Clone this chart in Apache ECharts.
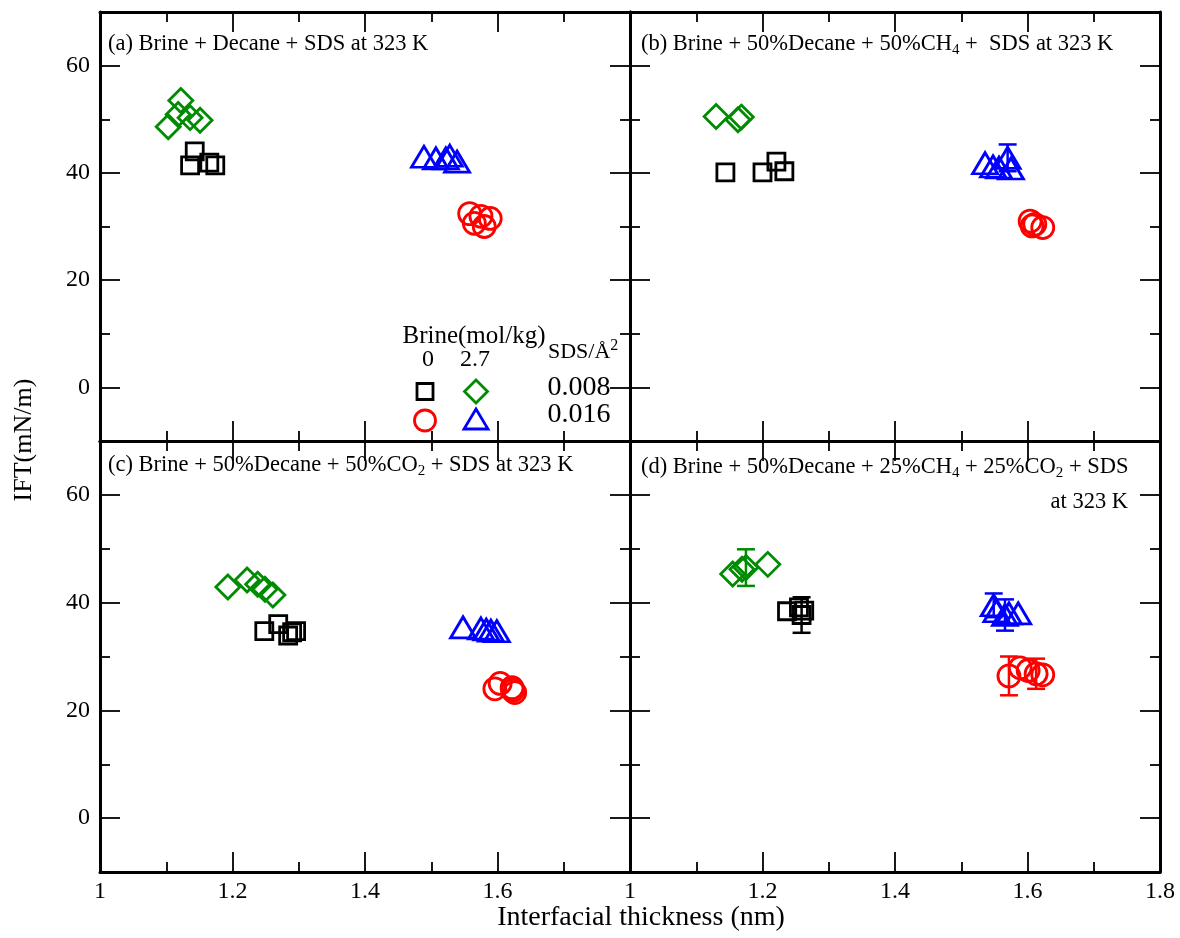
<!DOCTYPE html>
<html>
<head>
<meta charset="utf-8">
<script src="https://cdn.jsdelivr.net/npm/echarts@6/dist/echarts.min.js"></script>
<style>
html, body { margin: 0; padding: 0; background: #fff; }
#chart { width: 1180px; height: 938px; }
</style>
</head>
<body>
<div id="chart"></div>
<script>
// axis ticks
var xMin = 1, xMax = 1.8, xStep = 0.2;
var yMin = -10, yMax = 70;
var yMajor = [0, 20, 40, 60];
var yMinor = [10, 30, 50];

// (a) brine + decane + SDS
var aSquare = [[1.143, 44.0], [1.136, 41.4], [1.165, 41.9], [1.174, 41.4]];
var aDiamond = [[1.103, 48.6], [1.118, 50.9], [1.122, 53.5], [1.136, 50.3], [1.151, 49.8]];
var aCircle = [[1.558, 32.4], [1.565, 30.6], [1.580, 30.0], [1.575, 31.9], [1.589, 31.5]];
var aTriangle = [[1.489, 43.0], [1.507, 42.7], [1.522, 42.7], [1.528, 43.2], [1.539, 42.1]];

// (b) 50% decane + 50% CH4
var bSquare = [[1.144, 40.1], [1.200, 40.1], [1.221, 42.1], [1.233, 40.3]];
var bDiamond = [[1.130, 50.5], [1.163, 49.9], [1.168, 50.4]];
var bCircle = [[1.604, 31.0], [1.607, 30.1], [1.611, 30.4], [1.623, 29.8]];
var bTriangle = [[1.536, 41.8], [1.548, 41.2], [1.557, 41.0], [1.570, 42.8], [1.575, 40.8]];
var bTriangleErr = [[1.570, 42.8, 2.5]];

// (c) 50% decane + 50% CO2
var cSquare = [[1.248, 34.7], [1.269, 36.0], [1.284, 33.9], [1.290, 34.5], [1.296, 34.7]];
var cDiamond = [[1.193, 42.9], [1.222, 44.2], [1.238, 43.4], [1.249, 42.5], [1.261, 41.4]];
var cCircle = [[1.596, 24.0], [1.604, 25.0], [1.622, 24.2], [1.626, 23.3], [1.623, 23.7]];
var cTriangle = [[1.548, 35.4], [1.575, 35.2], [1.583, 35.0], [1.590, 34.8], [1.599, 34.7]];

// (d) 50% decane + 25% CH4 + 25% CO2
var dSquare = [[1.237, 38.4], [1.255, 39.1], [1.259, 37.7], [1.263, 38.5]];
var dDiamond = [[1.155, 45.3], [1.169, 46.2], [1.175, 46.5], [1.208, 47.1]];
var dCircle = [[1.572, 26.4], [1.589, 27.9], [1.601, 27.4], [1.613, 26.8], [1.623, 26.6]];
var dTriangle = [[1.549, 39.5], [1.553, 38.4], [1.566, 37.7], [1.572, 38.0], [1.586, 38.0]];
var dSquareErr = [[1.259, 37.7, 3.3]];
var dDiamondErr = [[1.175, 46.5, 3.4]];
var dCircleErr = [[1.572, 26.4, 3.6], [1.613, 26.8, 2.8]];
var dTriangleErr = [[1.549, 39.5, 2.2], [1.566, 37.7, 2.9]];

var FONT = "'Liberation Serif', 'Times New Roman', serif";
var BLACK = '#000000', RED = '#ff0000', GREEN = '#008c00', BLUE = '#0000ff';

var panels = [
    { sq: aSquare, di: aDiamond, ci: aCircle, tr: aTriangle, err: [] },
    { sq: bSquare, di: bDiamond, ci: bCircle, tr: bTriangle, err: [[bTriangleErr, BLUE]] },
    { sq: cSquare, di: cDiamond, ci: cCircle, tr: cTriangle, err: [] },
    { sq: dSquare, di: dDiamond, ci: dCircle, tr: dTriangle,
      err: [[dSquareErr, BLACK], [dDiamondErr, GREEN], [dCircleErr, RED], [dTriangleErr, BLUE]] }
];
var boxes = [[100, 12, 530, 429], [630, 12, 530, 429], [100, 441, 530, 431], [630, 441, 530, 431]];

var grids = [], xAxes = [], yAxes = [], series = [];
var tickStyle = { color: '#000', width: 1.8 };
var lineStyle = { color: '#000', width: 3 };

boxes.forEach(function (b, i) {
    var isBottom = i >= 2, isLeft = i % 2 === 0;
    grids.push({ left: b[0], top: b[1], width: b[2], height: b[3] });
    ['bottom', 'top'].forEach(function (pos) {
        xAxes.push({
            gridIndex: i, type: 'value', position: pos,
            min: xMin, max: xMax, interval: xStep,
            axisLine: { onZero: false, lineStyle: lineStyle },
            axisTick: { inside: true, length: 20, lineStyle: tickStyle },
            minorTick: { show: true, splitNumber: 2, length: 10, lineStyle: tickStyle },
            splitLine: { show: false },
            axisLabel: {
                show: isBottom && pos === 'bottom', showMaxLabel: i !== 2,
                margin: 8, fontSize: 24, fontFamily: FONT, color: '#000'
            }
        });
    });
    ['left', 'right'].forEach(function (pos) {
        yAxes.push({
            gridIndex: i, type: 'value', position: pos, min: yMin, max: yMax,
            axisLine: { onZero: false, lineStyle: lineStyle },
            axisTick: { inside: true, length: 20, customValues: yMajor, lineStyle: tickStyle },
            splitLine: { show: false },
            axisLabel: {
                show: isLeft && pos === 'left', customValues: yMajor,
                margin: 10, fontSize: 24, fontFamily: FONT, color: '#000'
            }
        });
        yAxes.push({
            gridIndex: i, type: 'value', position: pos, min: yMin, max: yMax,
            axisLine: { show: false },
            axisTick: { inside: true, length: 10, customValues: yMinor, lineStyle: tickStyle },
            splitLine: { show: false },
            axisLabel: { show: false }
        });
    });

    var p = panels[i];
    function sc(data, symbol, size, color) {
        series.push({
            type: 'scatter', xAxisIndex: 2 * i, yAxisIndex: 4 * i,
            data: data, symbol: symbol, symbolSize: size,
            itemStyle: { color: 'rgba(0,0,0,0)', borderColor: color, borderWidth: 2.8, opacity: 1 },
            emphasis: { disabled: true }
        });
    }
    sc(p.sq, 'rect', 17, BLACK);
    sc(p.di, 'diamond', 24, GREEN);
    sc(p.ci, 'circle', 22, RED);
    sc(p.tr, 'triangle', [25, 21], BLUE);
    p.err.forEach(function (e) {
        series.push({
            type: 'custom', xAxisIndex: 2 * i, yAxisIndex: 4 * i,
            data: e[0], encode: { x: 0, y: 1 },
            renderItem: errBar(e[1])
        });
    });
});

function errBar(color) {
    return function (params, api) {
        var x = api.value(0), y = api.value(1), e = api.value(2);
        var hi = api.coord([x, y + e]), lo = api.coord([x, y - e]);
        var w = 9, st = { stroke: color, lineWidth: 2.5 };
        return {
            type: 'group', children: [
                { type: 'line', shape: { x1: hi[0], y1: hi[1], x2: lo[0], y2: lo[1] }, style: st },
                { type: 'line', shape: { x1: hi[0] - w, y1: hi[1], x2: hi[0] + w, y2: hi[1] }, style: st },
                { type: 'line', shape: { x1: lo[0] - w, y1: lo[1], x2: lo[0] + w, y2: lo[1] }, style: st }
            ]
        };
    };
}

function txt(x, y, text, size, extra) {
    var o = {
        type: 'text', x: x, y: y, z: 100,
        style: {
            text: text, fill: '#000', font: size + 'px ' + FONT,
            align: 'left', verticalAlign: 'middle',
            rich: {
                sub: { fontSize: 15, fontFamily: FONT, verticalAlign: 'bottom', lineHeight: 12 },
                sup: { fontSize: 16, fontFamily: FONT, verticalAlign: 'top', lineHeight: 12 },
                n: { fontSize: size, fontFamily: FONT, lineHeight: 28 }
            }
        }
    };
    if (extra) Object.keys(extra).forEach(function (k) { o.style[k] = extra[k]; });
    return o;
}

var graphics = [
    txt(108, 44, '{n|(a) Brine + Decane + SDS at 323 K}', 22.5),
    txt(641, 44, '{n|(b) Brine + 50%Decane + 50%CH}{sub|4}{n| +  SDS at 323 K}', 22.5),
    txt(108, 465, '{n|(c) Brine + 50%Decane + 50%CO}{sub|2}{n| + SDS at 323 K}', 22.5),
    txt(641, 467, '{n|(d) Brine + 50%Decane + 25%CH}{sub|4}{n| + 25%CO}{sub|2}{n| + SDS}', 22.5),
    txt(1128, 502, '{n|at 323 K}', 22.5, { align: 'right' }),
    txt(641, 918, 'Interfacial thickness (nm)', 28, { align: 'center' }),
    {
        type: 'text', x: 24, y: 440, rotation: Math.PI / 2, z: 100,
        style: { text: 'IFT(mN/m)', fill: '#000', font: '26px ' + FONT, align: 'center', verticalAlign: 'middle' }
    },
    // legend box inside panel (a)
    txt(474, 336, 'Brine(mol/kg)', 25, { align: 'center' }),
    txt(428, 360, '0', 24, { align: 'center' }),
    txt(475, 360, '2.7', 24, { align: 'center' }),
    txt(548, 352, '{n|SDS/Å}{sup|2}', 22),
    txt(579, 388, '0.008', 28, { align: 'center' }),
    txt(579, 415, '0.016', 28, { align: 'center' }),
    { type: 'rect', z: 100, shape: { x: 417, y: 383.5, width: 16, height: 16 },
      style: { fill: 'none', stroke: BLACK, lineWidth: 2.8 } },
    { type: 'polygon', z: 100, shape: { points: [[476, 380], [487.5, 391.5], [476, 403], [464.5, 391.5]] },
      style: { fill: 'none', stroke: GREEN, lineWidth: 2.8 } },
    { type: 'circle', z: 100, shape: { cx: 425, cy: 420.5, r: 10.5 },
      style: { fill: 'none', stroke: RED, lineWidth: 2.8 } },
    { type: 'polygon', z: 100, shape: { points: [[476, 409], [488, 429], [464, 429]] },
      style: { fill: 'none', stroke: BLUE, lineWidth: 2.8 } }
];

var chart = echarts.init(document.getElementById('chart'));
chart.setOption({
    backgroundColor: '#fff',
    animation: false,
    grid: grids,
    xAxis: xAxes,
    yAxis: yAxes,
    series: series,
    graphic: graphics
});
</script>
</body>
</html>
